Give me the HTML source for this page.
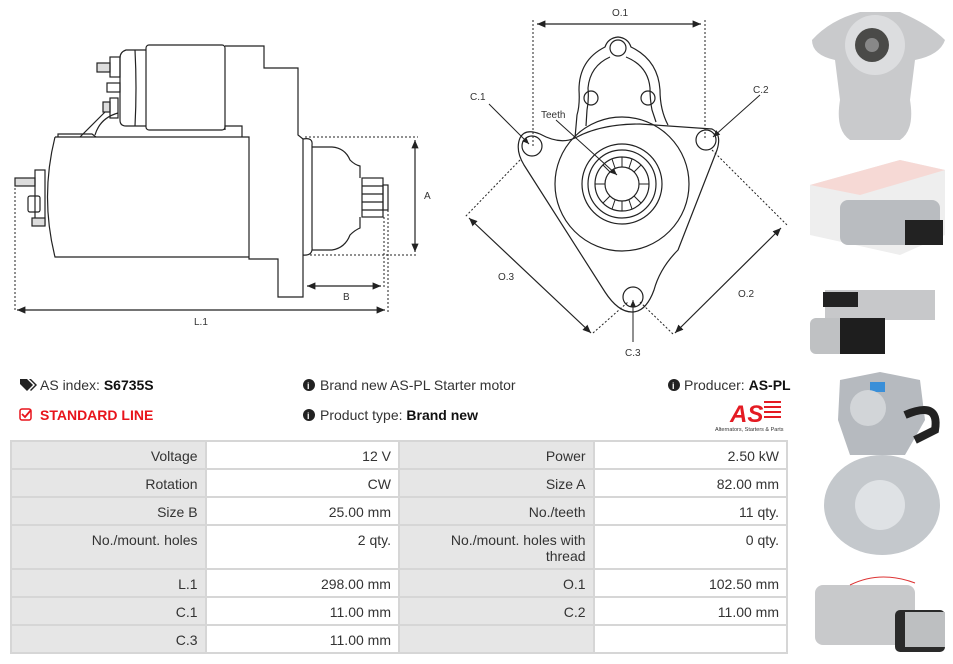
<!DOCTYPE html>
<html><head><meta charset="utf-8"><style>
body{margin:0;width:953px;height:664px;background:#fff;font-family:"Liberation Sans",sans-serif;position:relative;overflow:hidden;color:#333}
.t{position:absolute;font-size:14px;white-space:nowrap}
b{color:#111}
table{position:absolute;left:10px;top:440px;border-collapse:collapse;width:778px;font-size:14px}
td{border:2px solid #d6d6d6;text-align:right;padding:0 7px;vertical-align:top;padding-top:6px;height:20px}
td.l{background:#e6e6e6;width:179px}
td.v{background:#fff;width:178px}
</style></head><body>
<svg width="953" height="664" style="position:absolute;left:0;top:0" fill="none" stroke="#222" stroke-width="1.2" font-family="Liberation Sans" font-size="10">
<defs><marker id="a" markerWidth="8" markerHeight="8" refX="7" refY="4" orient="auto-start-reverse"><path d="M0,1 L7,4 L0,7 Z" fill="#222" stroke="none"/></marker></defs>
<path d="M55,137 L249,137 L249,259 L278,259 L278,297 L303,297 L303,139"/>
<path d="M55,137 Q40,197 55,257 L249,257"/>
<path d="M225,46 L264,46 L264,68 L298,68 L298,135 L303,139"/>
<rect x="146" y="45" width="79" height="85" rx="3"/>
<path d="M146,50 L126,50 Q120,52 120,58 L120,120 Q120,126 126,126 L146,126"/>
<path d="M135,50 Q137,88 135,126"/>
<path d="M225,130 L225,126 L242,126 L242,137"/>
<path d="M303,139 Q313,137 312,145 L312,247 Q313,256 303,255"/>
<path d="M312,147 L332,147 Q345,148 350,160 Q355,165 360,166 L360,178 M360,217 L360,228 Q355,230 350,235 Q345,248 332,250 L312,250"/>
<rect x="362" y="178" width="21" height="39"/>
<path d="M362,186 L383,186 M362,194 L383,194 M362,202 L383,202 M362,210 L383,210"/>
<rect x="383" y="185" width="5" height="25"/>
<rect x="15" y="178" width="20" height="8" fill="#ddd"/>
<rect x="35" y="170" width="10" height="55"/>
<rect x="28" y="196" width="12" height="16" rx="2"/>
<rect x="32" y="218" width="13" height="8" fill="#ddd"/>
<rect x="97" y="63" width="13" height="9" fill="#ddd"/>
<rect x="110" y="57" width="10" height="20"/>
<rect x="107" y="83" width="13" height="9"/>
<rect x="103" y="102" width="7" height="10" fill="#ddd"/>
<rect x="110" y="98" width="8" height="20"/>
<path d="M105,112 L80,137 M118,113 Q100,118 95,135"/>
<path d="M58,137 L58,134 L92,134 L96,137"/>
<g stroke-dasharray="2,2" stroke-width="1"><path d="M305,137 L418,137 M310,255 L418,255 M384,217 L384,288 M15,180 L15,312 M388,210 L388,312"/></g>
<path d="M415,140 L415,252" marker-start="url(#a)" marker-end="url(#a)"/>
<path d="M307,286 L381,286" marker-start="url(#a)" marker-end="url(#a)"/>
<path d="M17,310 L385,310" marker-start="url(#a)" marker-end="url(#a)"/>
<g fill="#333" stroke="none"><text x="424" y="199">A</text><text x="343" y="300">B</text><text x="194" y="325">L.1</text></g>
<path d="M520,138 Q525,128 540,134 Q560,145 575,138 Q600,124 640,124 L712,129 Q722,134 717,150 L678,250 Q660,268 654,290 Q646,312 632,312 Q618,312 605,292 L524,165 Q515,150 520,138 Z"/>
<path d="M575,138 L577,115 Q580,105 579,90 Q579,60 605,47 Q608,38 618,37 Q628,38 631,47 Q658,60 660,90 Q660,110 668,125"/>
<path d="M586,126 L587,110 Q589,100 588,88 Q590,66 610,57 M626,57 Q648,66 650,88 Q650,100 652,110 L656,122"/>
<circle cx="618" cy="48" r="8"/><circle cx="591" cy="98" r="7"/><circle cx="648" cy="98" r="7"/>
<circle cx="532" cy="146" r="10"/><circle cx="706" cy="140" r="10"/><circle cx="633" cy="297" r="10"/>
<circle cx="622" cy="184" r="67"/><circle cx="622" cy="184" r="40"/><circle cx="622" cy="184" r="34"/><circle cx="622" cy="184" r="27"/><circle cx="622" cy="184" r="17"/>
<g stroke-width="1"><path d="M622,157 L622,167 M622,201 L622,211 M595,184 L605,184 M639,184 L649,184 M603,165 L610,172 M641,165 L634,172 M603,203 L610,196 M641,203 L634,196 M612,159 L615,168 M632,159 L629,168 M612,209 L615,200 M632,209 L629,200"/></g>
<g stroke-dasharray="2,2" stroke-width="1"><path d="M533,20 L533,146 M705,20 L705,140 M520,160 L465,217 M593,333 L628,302 M712,150 L787,225 M673,334 L640,302"/></g>
<path d="M537,24 L701,24" marker-start="url(#a)" marker-end="url(#a)"/>
<path d="M469,218 L591,333" marker-start="url(#a)" marker-end="url(#a)"/>
<path d="M781,228 L675,333" marker-start="url(#a)" marker-end="url(#a)"/>
<g stroke-width="1"><path d="M489,104 L529,144" marker-end="url(#a)"/><path d="M760,95 L713,137" marker-end="url(#a)"/><path d="M633,342 L633,300" marker-end="url(#a)"/><path d="M556,120 L617,175" marker-end="url(#a)"/></g>
<g fill="#333" stroke="none"><text x="612" y="16">O.1</text><text x="470" y="100">C.1</text><text x="753" y="93">C.2</text><text x="541" y="118">Teeth</text><text x="498" y="280">O.3</text><text x="738" y="297">O.2</text><text x="625" y="356">C.3</text></g>
<g stroke="none">
<path d="M812,40 Q830,20 860,12 L900,12 Q930,25 945,40 Q940,55 915,60 L910,100 Q915,130 900,140 L850,140 Q835,130 840,100 L835,60 Q812,55 812,40Z" fill="#c9cacc"/>
<circle cx="875" cy="45" r="30" fill="#dcdddf"/><circle cx="872" cy="45" r="17" fill="#4a4a48"/><circle cx="872" cy="45" r="7" fill="#888"/>
<path d="M810,185 L900,160 L945,170 L945,235 L900,255 L810,235Z" fill="#eee"/>
<path d="M810,185 L900,160 L945,170 L860,195Z" fill="#f6d9d5"/>
<rect x="840" y="200" width="100" height="45" rx="8" fill="#b9bcc0"/><rect x="905" y="220" width="38" height="25" fill="#222"/>
<rect x="825" y="290" width="110" height="30" fill="#c7c8ca"/><rect x="810" y="318" width="75" height="36" rx="6" fill="#bfc1c3"/><rect x="840" y="318" width="45" height="36" fill="#1e1e1e"/>
<rect x="823" y="292" width="35" height="15" fill="#222"/>
<path d="M840,380 L880,372 L920,380 L925,420 L905,455 L850,455 L838,420Z" fill="#b6babf"/><rect x="870" y="382" width="15" height="10" fill="#3a8fd8"/>
<circle cx="868" cy="408" r="18" fill="#d2d5d8"/>
<path d="M905,415 Q940,400 935,430 L915,440" stroke="#222" stroke-width="8" fill="none"/>
<ellipse cx="882" cy="505" rx="58" ry="50" fill="#c4c8cc"/><circle cx="880" cy="505" r="25" fill="#dfe2e5"/>
<rect x="815" y="585" width="100" height="60" rx="8" fill="#c8c9cb"/><rect x="895" y="610" width="50" height="42" rx="5" fill="#2a2a2a"/><rect x="905" y="612" width="40" height="35" fill="#bdbfc1"/>
<path d="M850,585 Q880,570 915,583" stroke="#d33" stroke-width="1" fill="none"/>
</g>
<g fill="#222" stroke="none">
<path d="M20,379 L27,379 L33,385 L27,391 L20,384Z"/><path d="M29,379 L31,379 L37,385 L31,391 L30,390 L35,385Z"/>
<circle cx="309" cy="385" r="6"/><circle cx="309" cy="415" r="6"/><circle cx="674" cy="385" r="6"/>
</g>
<g fill="#fff" stroke="none" font-size="9" font-weight="bold"><text x="307" y="389">i</text><text x="307" y="419">i</text><text x="672" y="389">i</text></g>
<rect x="20" y="409" width="11" height="11" rx="2" stroke="#e8141b" stroke-width="1.5"/>
<path d="M22,414 L25,417 L31,410" stroke="#e8141b" stroke-width="1.8"/>
<g stroke="none"><text x="730" y="422" font-size="24" font-weight="bold" font-style="italic" fill="#e41b23">AS</text>
<rect x="764" y="401" width="17" height="2" fill="#e41b23"/><rect x="764" y="406" width="17" height="2" fill="#e41b23"/><rect x="764" y="411" width="17" height="2" fill="#e41b23"/><rect x="764" y="416" width="17" height="2" fill="#e41b23"/>
<text x="715" y="431" font-size="5.5" fill="#333">Alternators, Starters &amp; Parts</text></g>
</svg>
<div class="t" style="left:40px;top:377px">AS index: <b>S6735S</b></div>
<div class="t" style="left:40px;top:407px;color:#e8141b;font-weight:bold">STANDARD LINE</div>
<div class="t" style="left:320px;top:377px">Brand new AS-PL Starter motor</div>
<div class="t" style="left:320px;top:407px">Product type: <b>Brand new</b></div>
<div class="t" style="left:684px;top:377px">Producer: <b>AS-PL</b></div>
<table>
<tr><td class="l">Voltage</td><td class="v">12 V</td><td class="l">Power</td><td class="v">2.50 kW</td></tr>
<tr><td class="l">Rotation</td><td class="v">CW</td><td class="l">Size A</td><td class="v">82.00 mm</td></tr>
<tr><td class="l">Size B</td><td class="v">25.00 mm</td><td class="l">No./teeth</td><td class="v">11 qty.</td></tr>
<tr><td class="l" style="height:36px">No./mount. holes</td><td class="v">2 qty.</td><td class="l">No./mount. holes with<br>thread</td><td class="v">0 qty.</td></tr>
<tr><td class="l">L.1</td><td class="v">298.00 mm</td><td class="l">O.1</td><td class="v">102.50 mm</td></tr>
<tr><td class="l">C.1</td><td class="v">11.00 mm</td><td class="l">C.2</td><td class="v">11.00 mm</td></tr>
<tr><td class="l">C.3</td><td class="v">11.00 mm</td><td class="l"></td><td class="v"></td></tr>
</table>
</body></html>
